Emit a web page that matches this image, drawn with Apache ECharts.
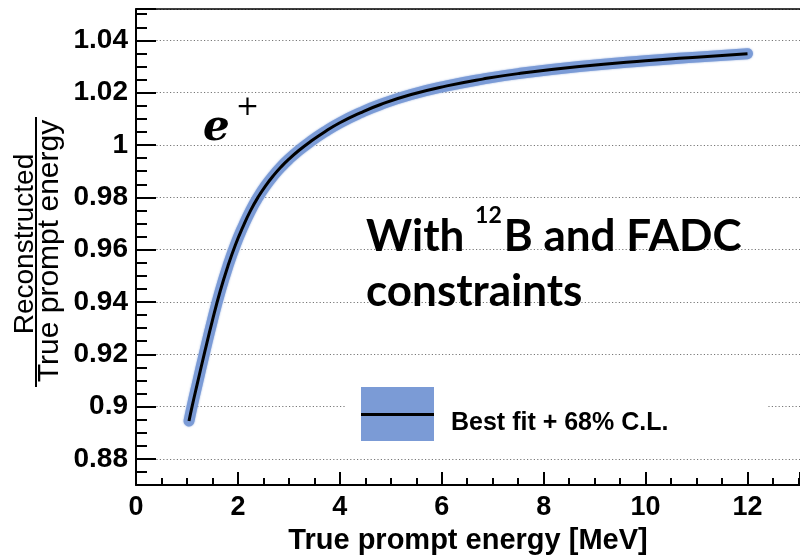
<!DOCTYPE html>
<html><head><meta charset="utf-8">
<script src="https://cdn.jsdelivr.net/npm/echarts@6/dist/echarts.min.js"></script>
<style>html,body{margin:0;padding:0;background:#fff}#c{width:800px;height:560px}</style>
</head><body><div id="c"></div>
<script>
// True prompt energy [MeV]
const energy = [1.04, 1.1, 1.2, 1.35, 1.5, 1.65, 1.8, 1.95, 2.1, 2.25, 2.4, 2.55, 2.7, 2.85, 3.0, 3.2, 3.4, 3.7, 4.0, 4.4, 4.8, 5.4, 6.1, 6.8, 7.5, 8.7, 10.0, 11.0, 12.0];
// Reconstructed / True prompt energy (best fit)
const ratio = [0.8945, 0.9000, 0.9085, 0.9210, 0.9330, 0.9440, 0.9535, 0.9618, 0.9688, 0.9750, 0.9802, 0.9846, 0.9884, 0.9917, 0.9946, 0.9980, 1.0010, 1.0050, 1.0085, 1.0123, 1.0155, 1.0193, 1.0226, 1.0252, 1.0273, 1.0300, 1.0322, 1.0336, 1.0349];
const xTicks = [0, 2, 4, 6, 8, 10, 12];
const yTicks = [0.88, 0.9, 0.92, 0.94, 0.96, 0.98, 1, 1.02, 1.04];

const fitData = energy.map((e, i) => [e, ratio[i]]);

const FONT = "'Liberation Sans', Arial, sans-serif";
const chart = echarts.init(document.getElementById('c'), null, {renderer: 'canvas'});
const option = {
  backgroundColor: '#fff',
  animation: false,
  grid: {left: 136, right: 0, top: 9, bottom: 62},
  xAxis: [{
    type: 'value', position: 'bottom', min: 0, max: 13.03, interval: 2,
    axisLine: {show: true, onZero: false, lineStyle: {color: '#000', width: 2}},
    axisTick: {show: true, inside: true, length: 13, lineStyle: {color: '#000', width: 2}},
    minorTick: {show: true, splitNumber: 4, length: 7, lineStyle: {color: '#000', width: 2}},
    axisLabel: {showMaxLabel: false, margin: 9, color: '#000', fontSize: 27, fontWeight: 'bold', fontFamily: FONT,
      formatter: v => xTicks.includes(v) ? String(v) : ''},
    splitLine: {show: false},
    name: 'True prompt energy [MeV]', nameLocation: 'middle', nameGap: 31,
    nameTextStyle: {color: '#000', fontSize: 29, fontWeight: 'bold', fontFamily: FONT}
  }, {
    type: 'value', position: 'top', min: 0, max: 13.03,
    axisLine: {show: true, onZero: false, lineStyle: {color: '#000', width: 1.5}},
    axisTick: {show: false}, axisLabel: {show: false}, splitLine: {show: false}
  }],
  yAxis: {
    type: 'value', min: 0.87, max: 1.052, splitNumber: 9,
    axisLine: {show: true, onZero: false, lineStyle: {color: '#000', width: 2}},
    axisTick: {show: true, inside: true, length: 20, lineStyle: {color: '#000', width: 2}},
    minorTick: {show: true, splitNumber: 4, length: 11, lineStyle: {color: '#000', width: 2}},
    axisLabel: {showMinLabel: false, showMaxLabel: false, margin: 8, color: '#000', fontSize: 28, fontWeight: 'bold', fontFamily: FONT,
      formatter: v => { const t = yTicks.find(k => Math.abs(k - v) < 1e-9); return t === undefined ? '' : String(t); }},
    splitLine: {show: true, lineStyle: {color: '#777', width: 1, type: [1.2, 2.2]}}
  },
  legend: [{
    data: [{name: 'Best fit + 68% C.L.', icon: 'rect'}],
    left: 345, top: 377, orient: 'horizontal',
    padding: [10, 99, 10, 16],
    itemWidth: 73, itemHeight: 54,
    backgroundColor: '#fff', selectedMode: false,
    itemStyle: {borderWidth: 0},
    formatter: name => '{t|' + name + '}',
    textStyle: {
      fontFamily: FONT, fontWeight: 'bold', fontSize: 25, color: '#000',
      rich: {t: {fontFamily: FONT, fontWeight: 'bold', fontSize: 25, color: '#000', lineHeight: 28, padding: [18, 0, 0, 12]}}
    },
    z: 5
  }, {
    data: [{name: 'fit', icon: 'rect'}],
    left: 361, top: 413, padding: 0,
    itemWidth: 73, itemHeight: 3,
    selectedMode: false, formatter: () => '',
    itemStyle: {borderWidth: 0},
    z: 10
  }],
  graphic: [{
    // y-axis title drawn as a fraction
    type: 'text', x: 25, y: 244, rotation: Math.PI / 2, z: 20,
    style: {text: 'Reconstructed', fontFamily: FONT, fontSize: 28, fill: '#000', align: 'center', verticalAlign: 'middle'}
  }, {
    type: 'line', z: 20,
    shape: {x1: 36, y1: 117, x2: 36, y2: 387},
    style: {stroke: '#000', lineWidth: 2}
  }, {
    type: 'text', x: 50, y: 251, rotation: Math.PI / 2, z: 20,
    style: {text: 'True prompt energy', fontFamily: FONT, fontSize: 30, fill: '#000', align: 'center', verticalAlign: 'middle'}
  }, {
    type: 'text', x: 203, y: 94, z: 20,
    style: {
      text: '{e|e}{p|+}', verticalAlign: 'top', align: 'left', fill: '#000',
      rich: {
        e: {fontFamily: "'DejaVu Serif', serif", fontStyle: 'italic', fontWeight: 'bold', fontSize: 42, lineHeight: 56, verticalAlign: 'bottom', fill: '#000'},
        p: {fontFamily: "'DejaVu Serif', serif", fontSize: 28, lineHeight: 10, verticalAlign: 'top', padding: [0, 0, 0, 6], fill: '#000'}
      }
    }
  }, {
    type: 'text', x: 366, y: 204, z: 20,
    style: {
      text: '{m|With }{s|12}{m|B and FADC}\n{m|constraints}', verticalAlign: 'top', align: 'left', fill: '#000',
      rich: {
        m: {fontFamily: "Lato, 'Open Sans', sans-serif", fontWeight: 'bold', fontSize: 44, lineHeight: 55, verticalAlign: 'bottom', fill: '#000'},
        s: {fontFamily: "Lato, 'Open Sans', sans-serif", fontWeight: 'bold', fontSize: 23, lineHeight: 38, verticalAlign: 'top', padding: [0, 2, 0, 0], fill: '#000'}
      }
    }
  }],
  series: [{
    type: 'line', name: 'Best fit + 68% C.L.', data: fitData,
    xAxisIndex: 0, yAxisIndex: 0,
    symbol: 'none', showSymbol: false, smooth: true,
    color: '#7B9BD6',
    lineStyle: {width: 11, color: '#7B9BD6', cap: 'round', join: 'round', shadowBlur: 2, shadowColor: 'rgba(123,155,214,0.8)'},
    z: 2, silent: true
  }, {
    type: 'line', name: 'fit', data: fitData,
    xAxisIndex: 0, yAxisIndex: 0,
    symbol: 'none', showSymbol: false, smooth: true,
    color: '#000',
    lineStyle: {width: 3, color: '#000'},
    z: 3, silent: true
  }]
};
chart.setOption(option);
</script>
</body></html>
